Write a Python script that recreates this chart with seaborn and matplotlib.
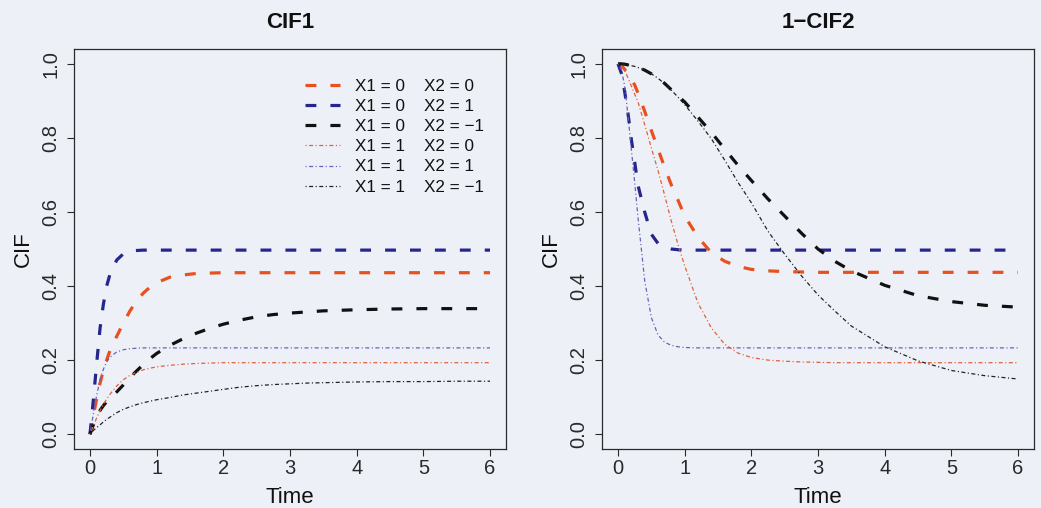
import matplotlib
matplotlib.use("Agg")
import matplotlib.pyplot as plt
import pandas as pd
import seaborn as sns

# Follow-up time grid (shared by all curves)
time = [0, 0.05, 0.1, 0.15, 0.2, 0.25, 0.3,
        0.4, 0.5, 0.6, 0.7, 0.8, 0.9, 1.0,
        1.2, 1.4, 1.6, 1.8, 2.0,
        2.25, 2.5, 2.75, 3.0, 3.25, 3.5,
        4.0, 4.5, 5.0, 5.5, 6.0]

# Cumulative incidence of cause 1, by covariate pattern
cif1_x0_z0 = [0, 0.05, 0.095, 0.137, 0.172, 0.200, 0.226,
              0.264, 0.300, 0.333, 0.360, 0.381, 0.397, 0.409,
              0.424, 0.430, 0.434, 0.435, 0.436,
              0.436, 0.436, 0.436, 0.436, 0.436, 0.436,
              0.436, 0.436, 0.436, 0.436, 0.436]
cif1_x0_z1 = [0, 0.092, 0.191, 0.285, 0.350, 0.400, 0.432,
              0.470, 0.487, 0.494, 0.496, 0.497, 0.497, 0.497,
              0.497, 0.497, 0.497, 0.497, 0.497,
              0.497, 0.497, 0.497, 0.497, 0.497, 0.497,
              0.497, 0.497, 0.497, 0.497, 0.497]
cif1_x0_zm1 = [0, 0.025, 0.048, 0.064, 0.077, 0.088, 0.098,
               0.114, 0.133, 0.153, 0.171, 0.188, 0.204, 0.218,
               0.240, 0.258, 0.273, 0.286, 0.297,
               0.308, 0.317, 0.323, 0.327, 0.330, 0.333,
               0.336, 0.338, 0.339, 0.339, 0.339]
cif1_x1_z0 = [0, 0.022, 0.044, 0.063, 0.080, 0.095, 0.108,
              0.130, 0.147, 0.159, 0.167, 0.174, 0.178, 0.182,
              0.186, 0.189, 0.191, 0.192, 0.193,
              0.193, 0.193, 0.193, 0.193, 0.193, 0.193,
              0.193, 0.193, 0.193, 0.193, 0.193]
cif1_x1_z1 = [0, 0.055, 0.105, 0.146, 0.175, 0.195, 0.208,
              0.222, 0.228, 0.231, 0.232, 0.233, 0.233, 0.233,
              0.233, 0.233, 0.233, 0.233, 0.233,
              0.233, 0.233, 0.233, 0.233, 0.233, 0.233,
              0.233, 0.233, 0.233, 0.233, 0.233]
cif1_x1_zm1 = [0, 0.010, 0.018, 0.025, 0.033, 0.040, 0.046,
               0.058, 0.067, 0.074, 0.080, 0.085, 0.089, 0.093,
               0.099, 0.106, 0.111, 0.116, 0.121,
               0.127, 0.131, 0.134, 0.136, 0.138, 0.139,
               0.141, 0.142, 0.142, 0.143, 0.143]

# One minus the cumulative incidence of cause 2
cif2c_x0_z0 = [1.0, 0.996, 0.985, 0.972, 0.958, 0.943, 0.921,
               0.872, 0.820, 0.770, 0.720, 0.673, 0.632, 0.589,
               0.532, 0.490, 0.467, 0.453, 0.445,
               0.441, 0.439, 0.438, 0.437, 0.437, 0.437,
               0.437, 0.437, 0.437, 0.437, 0.437]
cif2c_x0_z1 = [1.0, 0.975, 0.925, 0.866, 0.796, 0.735, 0.672,
               0.600, 0.540, 0.515, 0.505, 0.500, 0.498, 0.497,
               0.497, 0.497, 0.497, 0.497, 0.497,
               0.497, 0.497, 0.497, 0.497, 0.497, 0.497,
               0.497, 0.497, 0.497, 0.497, 0.497]
cif2c_x0_zm1 = [1.0, 1.0, 0.999, 0.997, 0.995, 0.993, 0.990,
                0.983, 0.973, 0.961, 0.947, 0.930, 0.913, 0.897,
                0.856, 0.815, 0.770, 0.726, 0.685,
                0.635, 0.589, 0.543, 0.500, 0.467, 0.441,
                0.402, 0.374, 0.358, 0.348, 0.343]
cif2c_x1_z0 = [1.0, 0.995, 0.982, 0.962, 0.940, 0.918, 0.897,
               0.836, 0.773, 0.712, 0.645, 0.575, 0.512, 0.455,
               0.354, 0.287, 0.243, 0.219, 0.207,
               0.200, 0.197, 0.195, 0.194, 0.193, 0.193,
               0.193, 0.193, 0.193, 0.193, 0.193]
cif2c_x1_z1 = [1.0, 0.985, 0.940, 0.860, 0.770, 0.680, 0.585,
               0.415, 0.315, 0.268, 0.248, 0.240, 0.236, 0.234,
               0.233, 0.233, 0.233, 0.233, 0.233,
               0.233, 0.233, 0.233, 0.233, 0.233, 0.233,
               0.233, 0.233, 0.233, 0.233, 0.233]
cif2c_x1_zm1 = [1.0, 1.0, 0.999, 0.997, 0.995, 0.993, 0.990,
                0.983, 0.973, 0.961, 0.946, 0.929, 0.910, 0.890,
                0.845, 0.798, 0.740, 0.680, 0.625,
                0.548, 0.486, 0.428, 0.376, 0.333, 0.292,
                0.236, 0.198, 0.172, 0.158, 0.149]

groups = ["X1 = 0    X2 = 0", "X1 = 0    X2 = 1", "X1 = 0    X2 = \u22121",
          "X1 = 1    X2 = 0", "X1 = 1    X2 = 1", "X1 = 1    X2 = \u22121"]
x_ticks = [0, 1, 2, 3, 4, 5, 6]
y_ticks = [0.0, 0.2, 0.4, 0.6, 0.8, 1.0]
y_tick_labels = ["0.0", "0.2", "0.4", "0.6", "0.8", "1.0"]

colors = ["#e8501e", "#25258e", "#111111", "#e2603a", "#6464b8", "#222222"]
thick_dash = (3.4, 4.4)
thin_dash = (0.9, 2.0, 3.2, 2.0)
dash_styles = [thick_dash] * 3 + [thin_dash] * 3
widths = [2.3] * 3 + [0.9] * 3

BG = "#eef0f7"
INK = "#2a2a2a"

sns.set_style("ticks", {"axes.facecolor": BG, "figure.facecolor": BG,
                        "axes.edgecolor": INK, "xtick.color": INK,
                        "ytick.color": INK, "text.color": "#111111",
                        "axes.labelcolor": "#111111"})
plt.rcParams["font.family"] = ["Liberation Sans", "DejaVu Sans"]


def long_frame(series_list):
    frames = []
    for name, vals in zip(groups, series_list):
        frames.append(pd.DataFrame({"Time": time, "value": vals, "group": name}))
    return pd.concat(frames, ignore_index=True)


df_left = long_frame([cif1_x0_z0, cif1_x0_z1, cif1_x0_zm1,
                      cif1_x1_z0, cif1_x1_z1, cif1_x1_zm1])
df_right = long_frame([cif2c_x0_z0, cif2c_x0_z1, cif2c_x0_zm1,
                       cif2c_x1_z0, cif2c_x1_z1, cif2c_x1_zm1])

fig = plt.figure(figsize=(10.41, 5.08), dpi=100)
fig.patch.set_facecolor(BG)
ax_w, ax_h = 432 / 1041, 400 / 508
ax_b = 59 / 508
ax1 = fig.add_axes([74 / 1041, ax_b, ax_w, ax_h])
ax2 = fig.add_axes([602 / 1041, ax_b, ax_w, ax_h])

palette = dict(zip(groups, colors))
dashes = dict(zip(groups, dash_styles))
sizes = dict(zip(groups, widths))

for ax, df, title in [(ax1, df_left, "CIF1"), (ax2, df_right, "1\u2212CIF2")]:
    sns.lineplot(data=df, x="Time", y="value", hue="group", style="group",
                 size="group", hue_order=groups, style_order=groups,
                 size_order=groups, palette=palette, dashes=dashes,
                 sizes=sizes, estimator=None, errorbar=None, legend=False,
                 ax=ax)
    ax.set_facecolor(BG)
    ax.set_xlim(-0.24, 6.24)
    ax.set_ylim(-0.04, 1.04)
    ax.set_xticks(x_ticks)
    ax.set_xticklabels([str(t) for t in x_ticks])
    ax.set_yticks(y_ticks)
    ax.set_yticklabels(y_tick_labels, rotation=90, va="center")
    ax.tick_params(axis="both", direction="out", length=4.8, width=0.8,
                   labelsize=14.5, color=INK)
    ax.tick_params(axis="x", pad=2.5)
    ax.tick_params(axis="y", pad=5)
    for sp in ax.spines.values():
        sp.set_visible(True)
        sp.set_linewidth(0.9)
        sp.set_color(INK)
    ax.set_title(title, fontsize=16, fontweight="bold", pad=15)
    ax.set_xlabel("Time", fontsize=16)
    ax.set_ylabel("CIF", fontsize=16)
    ax.xaxis.set_label_coords(0.5, -0.095)
    ax.xaxis.label.set_va("top")
    ax.yaxis.set_label_coords(-0.118, 0.5)
    ax.yaxis.label.set_va("center")
    ax.grid(False)

handles = ax1.lines[:6]
ax1.legend(handles, groups, loc="upper left", bbox_to_anchor=(0.535, 0.925),
           frameon=False, fontsize=12.3, handlelength=2.05,
           handletextpad=0.85, labelspacing=0.3, borderpad=0,
           borderaxespad=0)

fig.savefig("out.png", dpi=100, facecolor=BG)
